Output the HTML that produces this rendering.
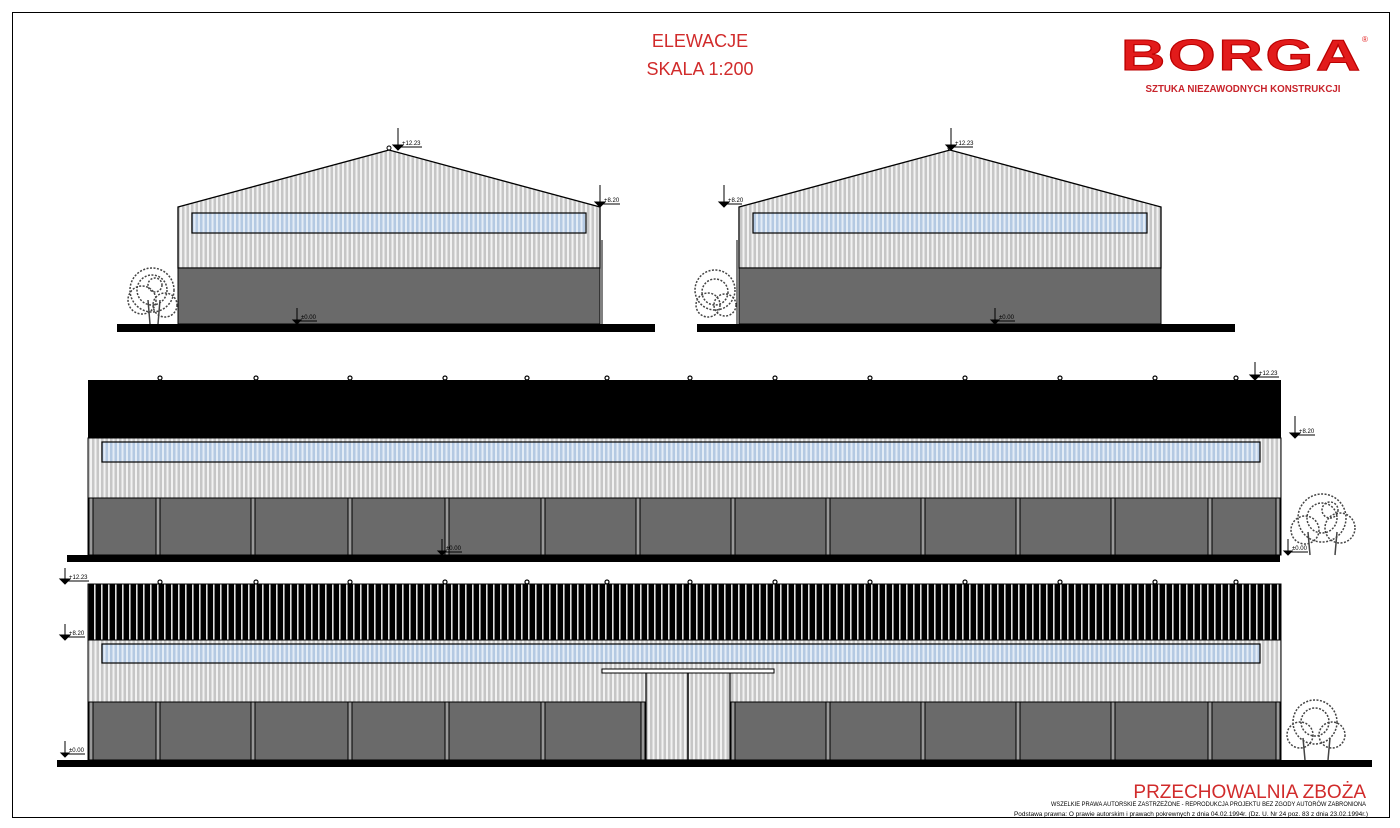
<!DOCTYPE html>
<html><head><meta charset="utf-8"><style>
html,body{margin:0;padding:0;background:#fff;}
svg{display:block;font-family:"Liberation Sans",sans-serif;}
</style></head><body>
<svg width="1400" height="828" viewBox="0 0 1400 828" xmlns="http://www.w3.org/2000/svg">
<defs>
<pattern id="clad" width="4.5" height="10" patternUnits="userSpaceOnUse"><rect width="4.5" height="10" fill="#c6c6c6"/><rect x="0" width="2" height="10" fill="#f2f2f2"/></pattern>
<pattern id="win" width="4.5" height="10" patternUnits="userSpaceOnUse"><rect width="4.5" height="10" fill="#b4c9e2"/><rect x="0" width="2" height="10" fill="#e3ecf6"/></pattern>
<pattern id="roof" width="7" height="10" patternUnits="userSpaceOnUse"><rect width="7" height="10" fill="#000"/><rect x="3" width="1.6" height="10" fill="#e0e0e0"/></pattern>
</defs>
<rect x="12.5" y="12.5" width="1377" height="805" fill="none" stroke="#000" stroke-width="1"/>

<text x="700" y="47" font-size="18" fill="#d12b2b" text-anchor="middle">ELEWACJE</text>
<text x="700" y="75" font-size="18" fill="#d12b2b" text-anchor="middle">SKALA 1:200</text>

<text x="1242" y="70" font-size="44" font-weight="bold" fill="#e21b1b" text-anchor="middle" stroke="#b00" stroke-width="1" letter-spacing="2" textLength="242" lengthAdjust="spacingAndGlyphs">BORGA</text>
<text x="1362" y="42" font-size="8" fill="#e21b1b">®</text>
<text x="1243" y="92" font-size="10" font-weight="bold" fill="#c8232b" text-anchor="middle" textLength="195" lengthAdjust="spacingAndGlyphs">SZTUKA NIEZAWODNYCH KONSTRUKCJI</text>

<!-- Elevation 1 -->
<polygon points="178,207 389,150 600,207 600,268 178,268" fill="url(#clad)" stroke="#000" stroke-width="1.3"/>
<rect x="178" y="268" width="422" height="56" fill="#6a6a6a" stroke="#000" stroke-width="1"/>
<rect x="192" y="213" width="394" height="20" fill="url(#win)" stroke="#000" stroke-width="1.2"/>
<line x1="602" y1="240" x2="602" y2="324" stroke="#000" stroke-width="1"/>
<rect x="117" y="324" width="538" height="8" fill="#000"/>
<circle cx="389" cy="148" r="2" fill="none" stroke="#000"/>
<g fill="none" stroke="#444" stroke-width="1.5" stroke-dasharray="2 1.5"><circle cx="152" cy="290" r="22"/><circle cx="152" cy="290" r="15"/><circle cx="142" cy="300" r="14"/><circle cx="165" cy="305" r="12"/><circle cx="155" cy="285" r="7"/></g>
<g stroke="#444" stroke-width="1.5"><line x1="150" y1="324" x2="148" y2="300"/><line x1="158" y1="324" x2="160" y2="300"/></g>

<!-- Elevation 2 -->
<polygon points="739,207 950,150 1161,207 1161,268 739,268" fill="url(#clad)" stroke="#000" stroke-width="1.3"/>
<rect x="739" y="268" width="422" height="56" fill="#6a6a6a" stroke="#000" stroke-width="1"/>
<rect x="753" y="213" width="394" height="20" fill="url(#win)" stroke="#000" stroke-width="1.2"/>
<line x1="737" y1="240" x2="737" y2="324" stroke="#000" stroke-width="1"/>
<rect x="697" y="324" width="538" height="8" fill="#000"/>
<circle cx="950" cy="148" r="2" fill="none" stroke="#000"/>
<g fill="none" stroke="#444" stroke-width="1.5" stroke-dasharray="2 1.5"><circle cx="715" cy="290" r="20"/><circle cx="715" cy="292" r="13"/><circle cx="708" cy="305" r="12"/><circle cx="725" cy="305" r="11"/></g>

<!-- Elevation 3 -->
<rect x="88" y="380" width="1193" height="58" fill="#000"/>
<rect x="88" y="438" width="1193" height="60" fill="url(#clad)" stroke="#000" stroke-width="1"/>
<rect x="102" y="442" width="1158" height="20" fill="url(#win)" stroke="#000" stroke-width="1.2"/>
<rect x="88" y="498" width="1193" height="57" fill="#6a6a6a" stroke="#000" stroke-width="1"/>
<g fill="#999" stroke="#000" stroke-width="1">
<rect x="89" y="498" width="4" height="57"/><rect x="156" y="498" width="4" height="57"/><rect x="251" y="498" width="4" height="57"/><rect x="348" y="498" width="4" height="57"/><rect x="445" y="498" width="4" height="57"/><rect x="541" y="498" width="4" height="57"/><rect x="636" y="498" width="4" height="57"/><rect x="731" y="498" width="4" height="57"/><rect x="826" y="498" width="4" height="57"/><rect x="921" y="498" width="4" height="57"/><rect x="1016" y="498" width="4" height="57"/><rect x="1111" y="498" width="4" height="57"/><rect x="1208" y="498" width="4" height="57"/><rect x="1276" y="498" width="4" height="57"/>
</g>
<rect x="67" y="555" width="1213" height="7" fill="#000"/>
<g fill="#fff" stroke="#000" stroke-width="1.2">
<circle cx="160" cy="378" r="2"/><circle cx="256" cy="378" r="2"/><circle cx="350" cy="378" r="2"/><circle cx="445" cy="378" r="2"/><circle cx="527" cy="378" r="2"/><circle cx="607" cy="378" r="2"/><circle cx="690" cy="378" r="2"/><circle cx="775" cy="378" r="2"/><circle cx="870" cy="378" r="2"/><circle cx="965" cy="378" r="2"/><circle cx="1060" cy="378" r="2"/><circle cx="1155" cy="378" r="2"/><circle cx="1236" cy="378" r="2"/>
</g>
<g fill="none" stroke="#444" stroke-width="1.5" stroke-dasharray="2 1.5"><circle cx="1322" cy="518" r="24"/><circle cx="1322" cy="518" r="15"/><circle cx="1305" cy="530" r="14"/><circle cx="1340" cy="528" r="15"/><circle cx="1330" cy="510" r="8"/></g>
<g stroke="#444" stroke-width="1.5"><line x1="1310" y1="555" x2="1308" y2="532"/><line x1="1335" y1="555" x2="1337" y2="532"/></g>

<!-- Elevation 4 -->
<rect x="88" y="584" width="1193" height="56" fill="url(#roof)" stroke="#000" stroke-width="1"/>
<rect x="88" y="640" width="1193" height="62" fill="url(#clad)" stroke="#000" stroke-width="1"/>
<rect x="102" y="644" width="1158" height="19" fill="url(#win)" stroke="#000" stroke-width="1.2"/>
<rect x="88" y="702" width="1193" height="58" fill="#6a6a6a" stroke="#000" stroke-width="1"/>
<g fill="#999" stroke="#000" stroke-width="1">
<rect x="89" y="702" width="4" height="58"/><rect x="156" y="702" width="4" height="58"/><rect x="251" y="702" width="4" height="58"/><rect x="348" y="702" width="4" height="58"/><rect x="445" y="702" width="4" height="58"/><rect x="541" y="702" width="4" height="58"/><rect x="641" y="702" width="4" height="58"/><rect x="731" y="702" width="4" height="58"/><rect x="826" y="702" width="4" height="58"/><rect x="921" y="702" width="4" height="58"/><rect x="1016" y="702" width="4" height="58"/><rect x="1111" y="702" width="4" height="58"/><rect x="1208" y="702" width="4" height="58"/><rect x="1276" y="702" width="4" height="58"/>
</g>
<rect x="646" y="672" width="84" height="88" fill="url(#clad)" stroke="#000" stroke-width="1.2"/>
<line x1="688" y1="672" x2="688" y2="760" stroke="#000" stroke-width="1.5"/>
<rect x="602" y="669" width="172" height="4" fill="#fff" stroke="#000" stroke-width="1"/>
<rect x="57" y="760" width="1315" height="7" fill="#000"/>
<g fill="#fff" stroke="#000" stroke-width="1.2">
<circle cx="160" cy="582" r="2"/><circle cx="256" cy="582" r="2"/><circle cx="350" cy="582" r="2"/><circle cx="445" cy="582" r="2"/><circle cx="527" cy="582" r="2"/><circle cx="607" cy="582" r="2"/><circle cx="690" cy="582" r="2"/><circle cx="775" cy="582" r="2"/><circle cx="870" cy="582" r="2"/><circle cx="965" cy="582" r="2"/><circle cx="1060" cy="582" r="2"/><circle cx="1155" cy="582" r="2"/><circle cx="1236" cy="582" r="2"/>
</g>
<g fill="none" stroke="#444" stroke-width="1.5" stroke-dasharray="2 1.5"><circle cx="1315" cy="722" r="22"/><circle cx="1315" cy="722" r="14"/><circle cx="1300" cy="735" r="13"/><circle cx="1332" cy="735" r="13"/></g>
<g stroke="#444" stroke-width="1.5"><line x1="1305" y1="760" x2="1303" y2="738"/><line x1="1328" y1="760" x2="1330" y2="738"/></g>

<!-- level markers -->
<g stroke="#000" stroke-width="1" fill="#000" font-size="6">
<g transform="translate(398,150)"><line x1="0" y1="-22" x2="0" y2="0"/><path d="M-5,-5 L5,-5 L0,0Z"/><line x1="0" y1="-3" x2="24" y2="-3"/><text x="4" y="-5" stroke="none">+12.23</text></g>
<g transform="translate(600,207)"><line x1="0" y1="-22" x2="0" y2="0"/><path d="M-5,-5 L5,-5 L0,0Z"/><line x1="0" y1="-3" x2="20" y2="-3"/><text x="4" y="-5" stroke="none">+8.20</text></g>
<g transform="translate(297,324)"><line x1="0" y1="-16" x2="0" y2="0"/><path d="M-4,-4 L4,-4 L0,0Z"/><line x1="0" y1="-3" x2="20" y2="-3"/><text x="4" y="-5" stroke="none">±0.00</text></g>
<g transform="translate(951,150)"><line x1="0" y1="-22" x2="0" y2="0"/><path d="M-5,-5 L5,-5 L0,0Z"/><line x1="0" y1="-3" x2="22" y2="-3"/><text x="4" y="-5" stroke="none">+12.23</text></g>
<g transform="translate(724,207)"><line x1="0" y1="-22" x2="0" y2="0"/><path d="M-5,-5 L5,-5 L0,0Z"/><line x1="0" y1="-3" x2="18" y2="-3"/><text x="4" y="-5" stroke="none">+8.20</text></g>
<g transform="translate(995,324)"><line x1="0" y1="-16" x2="0" y2="0"/><path d="M-4,-4 L4,-4 L0,0Z"/><line x1="0" y1="-3" x2="20" y2="-3"/><text x="4" y="-5" stroke="none">±0.00</text></g>
<g transform="translate(1255,380)"><line x1="0" y1="-18" x2="0" y2="0"/><path d="M-5,-5 L5,-5 L0,0Z"/><line x1="0" y1="-3" x2="24" y2="-3"/><text x="4" y="-5" stroke="none">+12.23</text></g>
<g transform="translate(1295,438)"><line x1="0" y1="-22" x2="0" y2="0"/><path d="M-5,-5 L5,-5 L0,0Z"/><line x1="0" y1="-3" x2="20" y2="-3"/><text x="4" y="-5" stroke="none">+8.20</text></g>
<g transform="translate(442,555)"><line x1="0" y1="-16" x2="0" y2="0"/><path d="M-4,-4 L4,-4 L0,0Z"/><line x1="0" y1="-3" x2="20" y2="-3"/><text x="4" y="-5" stroke="none">±0.00</text></g>
<g transform="translate(1288,555)"><line x1="0" y1="-16" x2="0" y2="0"/><path d="M-4,-4 L4,-4 L0,0Z"/><line x1="0" y1="-3" x2="20" y2="-3"/><text x="4" y="-5" stroke="none">±0.00</text></g>
<g transform="translate(65,584)"><line x1="0" y1="-16" x2="0" y2="0"/><path d="M-5,-5 L5,-5 L0,0Z"/><line x1="0" y1="-3" x2="24" y2="-3"/><text x="4" y="-5" stroke="none">+12.23</text></g>
<g transform="translate(65,640)"><line x1="0" y1="-16" x2="0" y2="0"/><path d="M-5,-5 L5,-5 L0,0Z"/><line x1="0" y1="-3" x2="20" y2="-3"/><text x="4" y="-5" stroke="none">+8.20</text></g>
<g transform="translate(65,757)"><line x1="0" y1="-16" x2="0" y2="0"/><path d="M-4,-4 L4,-4 L0,0Z"/><line x1="0" y1="-3" x2="20" y2="-3"/><text x="4" y="-5" stroke="none">±0.00</text></g>
</g>

<text x="1366" y="798" font-size="19" fill="#d12b2b" text-anchor="end">PRZECHOWALNIA ZBOŻA</text>
<text x="1366" y="806" font-size="6" fill="#000" text-anchor="end" textLength="315" lengthAdjust="spacingAndGlyphs">WSZELKIE PRAWA AUTORSKIE ZASTRZEŻONE - REPRODUKCJA PROJEKTU BEZ ZGODY AUTORÓW ZABRONIONA</text>
<text x="1368" y="816" font-size="6" fill="#000" text-anchor="end" textLength="354" lengthAdjust="spacingAndGlyphs">Podstawa prawna: O prawie autorskim i prawach pokrewnych z dnia 04.02.1994r. (Dz. U. Nr 24 poz. 83 z dnia 23.02.1994r.)</text>
</svg>
</body></html>
